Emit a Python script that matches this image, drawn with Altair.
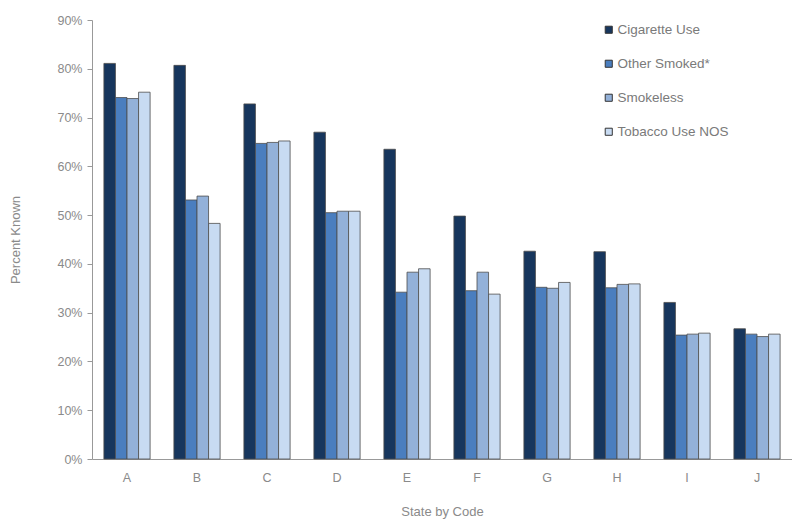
import altair as alt
import pandas as pd

states = ["A", "B", "C", "D", "E", "F", "G", "H", "I", "J"]
series = ["Cigarette Use", "Other Smoked*", "Smokeless", "Tobacco Use NOS"]
cigarette = [81.1, 80.7, 72.8, 67.0, 63.5, 49.8, 42.6, 42.5, 32.1, 26.7]
other_smoked = [74.1, 53.1, 64.7, 50.5, 34.2, 34.5, 35.2, 35.1, 25.4, 25.6]
smokeless = [73.9, 53.9, 64.9, 50.8, 38.3, 38.3, 35.0, 35.8, 25.6, 25.1]
nos = [75.2, 48.3, 65.2, 50.8, 39.0, 33.8, 36.2, 35.9, 25.8, 25.6]
colors = ["#17365d", "#4a7ebf", "#93b1d9", "#c8dbf2"]

rows = []
for vals, name in zip([cigarette, other_smoked, smokeless, nos], series):
    for s, v in zip(states, vals):
        rows.append({"State": s, "Series": name, "Value": v / 100.0})
df = pd.DataFrame(rows)

font = "Liberation Sans"
gray = "#8a8a8a"

chart = alt.Chart(df).mark_bar(stroke="#4d4d4d", strokeWidth=0.8).encode(
    x=alt.X("State:N", sort=states, title="State by Code",
            scale=alt.Scale(paddingInner=0.34, paddingOuter=0.17),
            axis=alt.Axis(labelAngle=0, ticks=False, labelPadding=12,
                          titlePadding=22, domainColor="#999999")),
    xOffset=alt.XOffset("Series:N", sort=series),
    y=alt.Y("Value:Q", title="Percent Known",
            scale=alt.Scale(domain=[0, 0.9]),
            axis=alt.Axis(format=".0%", values=[i / 10 for i in range(10)],
                          grid=False, tickSize=5, tickColor="#999999",
                          domainColor="#999999", labelPadding=5,
                          titlePadding=34)),
    color=alt.Color("Series:N", sort=series,
                    scale=alt.Scale(domain=series, range=colors),
                    legend=alt.Legend(title=None, orient="none",
                                      legendX=510, legendY=3,
                                      symbolType="square", symbolSize=50,
                                      symbolStrokeColor="#333333",
                                      symbolStrokeWidth=1,
                                      rowPadding=19, labelOffset=2)),
).properties(
    width=700, height=439,
    autosize=alt.AutoSizeParams(type="none"),
    padding={"left": 84, "top": 12, "right": 0, "bottom": 61},
).configure_view(stroke=None).configure_axis(
    labelFont=font, titleFont=font, labelColor=gray, titleColor=gray,
    labelFontSize=12.5, titleFontSize=13, titleFontWeight="normal",
).configure_legend(
    labelFont=font, labelColor="#7a7a7a", labelFontSize=13.5,
)

chart.save("out.html", embed_options={"renderer": "svg", "actions": False})
